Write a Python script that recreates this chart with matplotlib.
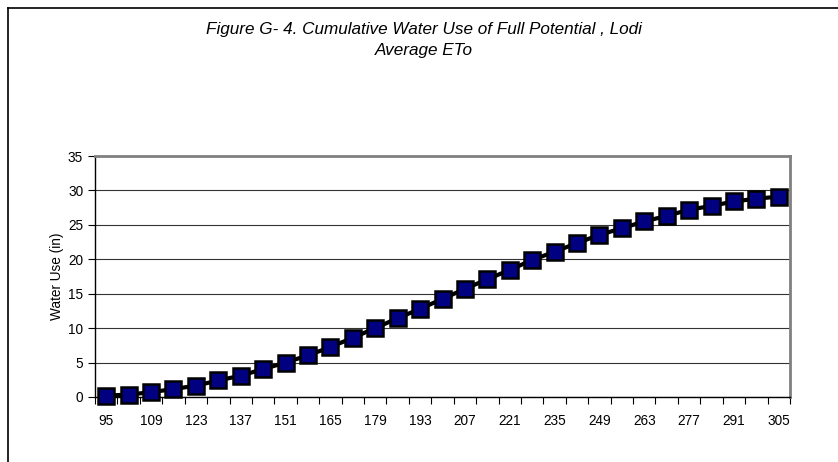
import numpy as np
import matplotlib.pyplot as plt
from matplotlib.lines import Line2D

# Day of year (category axis) and cumulative water use (in)
days = list(range(95, 306, 7))
water_use = [0.2, 0.35, 0.7, 1.15, 1.65, 2.4, 3.1, 4.05, 5.0, 6.05,
             7.25, 8.6, 10.0, 11.45, 12.8, 14.25, 15.7, 17.1, 18.45, 19.9,
             21.1, 22.35, 23.55, 24.5, 25.5, 26.3, 27.2, 27.75, 28.4, 28.8, 29.1]
tick_labels = [str(d) for d in days[::2]]
title_text = "Figure G- 4. Cumulative Water Use of Full Potential , Lodi\nAverage ETo"

plt.rcParams['font.family'] = ['Liberation Sans', 'DejaVu Sans']

W, H = 838, 462
fig = plt.figure(figsize=(W / 100, H / 100), dpi=100)

# outer frame (left and top edges visible)
fig.add_artist(Line2D([8 / W, 8 / W], [0, 1 - 8 / H], transform=fig.transFigure,
                      color='black', lw=1.2))
fig.add_artist(Line2D([8 / W, 1], [1 - 8 / H, 1 - 8 / H], transform=fig.transFigure,
                      color='black', lw=1.2))

fig.text(424 / W, 1 - 40 / H, title_text, ha='center', va='center',
         fontsize=12.3, style='italic', linespacing=1.45)

ax = fig.add_axes([95 / W, 1 - 397 / H, 695 / W, 241 / H])
x = np.arange(len(days))
ax.plot(x, water_use, color='black', lw=3.0, marker='s', markersize=11,
        markerfacecolor='#000080', markeredgecolor='black', markeredgewidth=1.8,
        zorder=3, clip_on=False)

ax.set_xlim(-0.5, len(days) - 0.5)
ax.set_ylim(0, 35)

# category boundaries as major ticks, labels on every other category
ax.set_xticks(np.arange(-0.5, len(days), 1.0))
ax.set_xticklabels([])
ax.set_xticks(x[::2], minor=True)
ax.set_xticklabels(tick_labels, minor=True)
ax.tick_params(axis='x', which='major', direction='out', length=5, width=0.8)
ax.tick_params(axis='x', which='minor', length=0, pad=12, labelsize=9.8)

ax.set_yticks(np.arange(0, 36, 5))
ax.tick_params(axis='y', direction='out', length=5, width=0.8, labelsize=9.8)
ax.yaxis.grid(True, color='#333333', lw=0.8)
ax.set_axisbelow(True)

ax.set_ylabel('Water Use (in)', fontsize=9.8, labelpad=3)

for side in ['left', 'bottom']:
    ax.spines[side].set_color('black')
    ax.spines[side].set_linewidth(1.0)
for side in ['top', 'right']:
    ax.spines[side].set_color('#808080')
    ax.spines[side].set_linewidth(2.0)

fig.savefig('out.png', dpi=100)
